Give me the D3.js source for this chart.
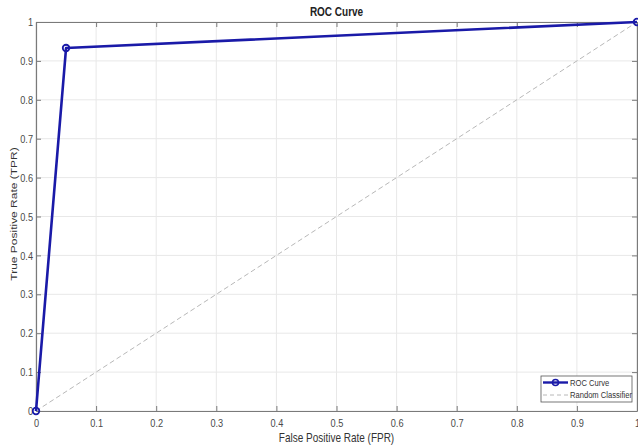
<!DOCTYPE html>
<html><head><meta charset="utf-8">
<script src="https://cdn.jsdelivr.net/npm/d3@7"></script>
<style>body{margin:0;background:#fff;}svg{display:block;font-family:"Liberation Sans",Arial,sans-serif;}</style>
</head><body>
<svg id="c" width="638" height="448"></svg>
<script>
const rocFPR = [0, 0.05, 1];
const rocTPR = [0, 0.933, 1];
const diagX = [0, 1];
const diagY = [0, 1];
const xTicks = [0,0.1,0.2,0.3,0.4,0.5,0.6,0.7,0.8,0.9,1];
const yTicks = [0,0.1,0.2,0.3,0.4,0.5,0.6,0.7,0.8,0.9,1];
const legendLabels = ["ROC Curve","Random Classifier"];

const SX = 0.8; // horizontal squeeze seen in the reference
const svg = d3.select("#c");
const L=36, R=637, T=22, B=411;
const x = d3.scaleLinear().domain([0,1]).range([L,R]);
const y = d3.scaleLinear().domain([0,1]).range([B,T]);
const fmt = d => d===0?"0":(d===1?"1":String(d));

function sText(px, py, txt, opts){
  const gg = svg.append("g").attr("transform",`translate(${px},${py}) scale(${SX},1)`);
  const t = gg.append("text").attr("x",0).attr("y",0).text(txt)
    .attr("font-size",opts.size).attr("fill",opts.fill||"#333")
    .attr("text-anchor",opts.anchor||"start");
  if(opts.bold) t.attr("font-weight","bold");
  return t;
}

// grid
const g = svg.append("g");
g.selectAll(".gx").data(xTicks).enter().append("line")
  .attr("x1",d=>x(d)).attr("x2",d=>x(d)).attr("y1",T).attr("y2",B)
  .attr("stroke","#e8e8e8").attr("stroke-width",1);
g.selectAll(".gy").data(yTicks).enter().append("line")
  .attr("y1",d=>y(d)).attr("y2",d=>y(d)).attr("x1",L).attr("x2",R)
  .attr("stroke","#e8e8e8").attr("stroke-width",1);

// axes (inside ticks, MATLAB style box)
const tickCol="#4a4a4a";
const axB = svg.append("g").attr("transform",`translate(0,${B})`)
  .call(d3.axisBottom(x).tickValues(xTicks).tickFormat(fmt).tickSizeInner(-5).tickSizeOuter(0).tickPadding(8));
const axL = svg.append("g").attr("transform",`translate(${L},0)`)
  .call(d3.axisLeft(y).tickValues(yTicks).tickFormat(fmt).tickSizeInner(-5).tickSizeOuter(0).tickPadding(4));
const axT = svg.append("g").attr("transform",`translate(0,${T})`)
  .call(d3.axisTop(x).tickValues(xTicks).tickFormat("").tickSizeInner(-5).tickSizeOuter(0));
const axR = svg.append("g").attr("transform",`translate(${R},0)`)
  .call(d3.axisRight(y).tickValues(yTicks).tickFormat("").tickSizeInner(-5).tickSizeOuter(0));
[axB,axL,axT,axR].forEach(a=>{
  a.selectAll(".domain").attr("stroke","#7a7a7a").attr("stroke-width",1.2);
  a.selectAll(".tick line").attr("stroke","#7a7a7a");
  a.selectAll("text").attr("fill",tickCol).attr("font-size",11.5)
    .attr("font-family","Liberation Sans, Arial, sans-serif")
    .attr("transform",`scale(${SX},1)`);
});
axL.selectAll("text").attr("x",-3/SX);

// diagonal
svg.append("path").datum(diagX.map((d,i)=>[d,diagY[i]]))
  .attr("d",d3.line().x(d=>x(d[0])).y(d=>y(d[1])))
  .attr("fill","none").attr("stroke","#b8b8b8").attr("stroke-width",1).attr("stroke-dasharray","5,3");

// ROC
const col="#1a1aa8";
svg.append("path").datum(rocFPR.map((d,i)=>[d,rocTPR[i]]))
  .attr("d",d3.line().x(d=>x(d[0])).y(d=>y(d[1])))
  .attr("fill","none").attr("stroke",col).attr("stroke-width",2.6).attr("stroke-linejoin","round");
svg.selectAll(".pt").data(rocFPR.map((d,i)=>[d,rocTPR[i]])).enter().append("circle")
  .attr("cx",d=>x(d[0])).attr("cy",d=>y(d[1])).attr("r",3.3)
  .attr("fill","none").attr("stroke",col).attr("stroke-width",1.8);

// title & labels
sText((L+R)/2, 16, "ROC Curve", {size:12.5, bold:true, anchor:"middle", fill:"#222"});
sText((L+R)/2, 442, "False Positive Rate (FPR)", {size:12.5, anchor:"middle"});
svg.append("text").attr("text-anchor","middle")
  .attr("font-size",12).attr("fill","#333")
  .attr("transform",`translate(17,214) rotate(-90) scale(1,${SX})`).text("True Positive Rate (TPR)");

// legend
const lg = svg.append("g");
lg.append("rect").attr("x",541).attr("y",376).attr("width",91).attr("height",26)
  .attr("fill","#fff").attr("stroke","#555").attr("stroke-width",0.8);
lg.append("line").attr("x1",543).attr("x2",568).attr("y1",382.5).attr("y2",382.5)
  .attr("stroke",col).attr("stroke-width",2.4);
lg.append("circle").attr("cx",555.5).attr("cy",382.5).attr("r",3).attr("fill","none").attr("stroke",col).attr("stroke-width",1.6);
lg.append("line").attr("x1",543).attr("x2",568).attr("y1",395).attr("y2",395)
  .attr("stroke","#b8b8b8").attr("stroke-width",1).attr("stroke-dasharray","4,3");
legendLabels.forEach((d,i)=>sText(570, 386+i*12.3, d, {size:9.5}));
</script>
</body></html>
